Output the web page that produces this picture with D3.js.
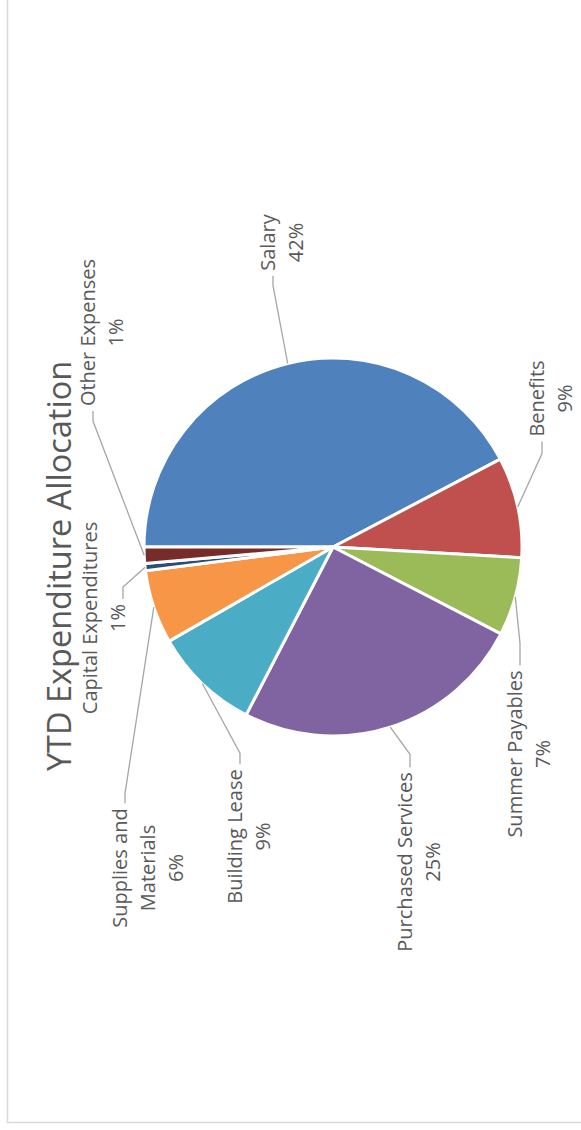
<!DOCTYPE html>
<html><head><meta charset="utf-8">
<script src="https://cdn.jsdelivr.net/npm/d3@7"></script>
<style>body{margin:0;background:#fff} svg{display:block}</style>
</head><body>
<svg id="chart" width="581" height="1130"></svg>
<script>
// ---- data ----
const categories = ["Salary","Benefits","Summer Payables","Purchased Services","Building Lease","Supplies and Materials","Capital Expenditures","Other Expenses"];
const values = [42.3, 8.6, 6.7, 25.0, 9.1, 6.3, 0.6, 1.4];
const percentLabels = ["42%","9%","7%","25%","9%","6%","1%","1%"];
const nameLines = [["Salary"],["Benefits"],["Summer Payables"],["Purchased Services"],["Building Lease"],["Supplies and","Materials"],["Capital Expenditures"],["Other Expenses"]];
const colors = ["#4F81BD","#C0504D","#9BBB59","#8064A2","#4BACC6","#F79646","#2C4D75","#772C2A"];
const title = "YTD Expenditure Allocation";

// ---- layout (in the unrotated chart frame, 1130 x 581) ----
const W = 1130, H = 581;
const cx = 583, cy = 333, R = 189;
const labelLayout = [
  {x:887.5, b:275, side:"left",  line:0, stub:10},
  {x:731.5, b:544, side:"left",  line:0, stub:12},
  {x:376,   b:522, side:"right", line:0, stub:22},
  {x:268,   b:412, side:"right", line:0, stub:13},
  {x:293.5, b:242, side:"right", line:0, stub:11},
  {x:262,   b:127, side:"right", line:0, stub:10},
  {x:512,   b:97,  side:"right", line:1, stub:12},
  {x:797.5, b:95,  side:"left",  line:0, stub:10}
];
const lineStep = 28;
const textColor = "#595959";

const svg = d3.select("#chart");
const g = svg.append("g").attr("transform", `translate(0,${W}) rotate(-90)`);

// chart area border
g.append("rect").attr("x",7.5).attr("y",7.5).attr("width",W+20).attr("height",H+20)
  .attr("fill","#fff").attr("stroke","#D9D9D9").attr("stroke-width",1.5);

// title
g.append("text").attr("x",564).attr("y",71).attr("text-anchor","middle")
  .attr("font-family","'Open Sans', sans-serif").attr("font-size",32.5).attr("fill",textColor)
  .text(title);

// pie
const pie = d3.pie().sort(null).value(d=>d).startAngle(0).endAngle(2*Math.PI);
const arcs = pie(values);
const arc = d3.arc().innerRadius(0).outerRadius(R);
const pg = g.append("g").attr("transform",`translate(${cx},${cy})`);
pg.selectAll("path").data(arcs).join("path")
  .attr("d",arc).attr("fill",(d,i)=>colors[i])
  .attr("stroke","#fff").attr("stroke-width",3).attr("stroke-linejoin","round");

// labels
const lg = g.append("g").attr("font-family","'Open Sans', sans-serif").attr("font-size",20).attr("fill",textColor);
arcs.forEach((a,i)=>{
  const L = labelLayout[i];
  const lines = nameLines[i].concat([percentLabels[i]]);
  const t = lg.append("text").attr("text-anchor","middle");
  const spans = lines.map((s,k)=> t.append("tspan").attr("x",L.x).attr("y",L.b + k*lineStep).text(s));
  const node = spans[L.line].node();
  const w = node.getComputedTextLength();
  const ey = L.b + L.line*lineStep - 2;
  const ex = L.side==="left" ? L.x - w/2 - 5 : L.x + w/2 + 5;
  const elx = L.side==="left" ? ex - L.stub : ex + L.stub;
  const mid = (a.startAngle + a.endAngle)/2;
  const ax = cx + R*Math.sin(mid), ay = cy - R*Math.cos(mid);
  g.append("polyline")
    .attr("points",[[ax,ay],[elx,ey],[ex,ey]].map(p=>p.join(",")).join(" "))
    .attr("fill","none").attr("stroke","#A6A6A6").attr("stroke-width",1.3);
});
</script>
</body></html>
